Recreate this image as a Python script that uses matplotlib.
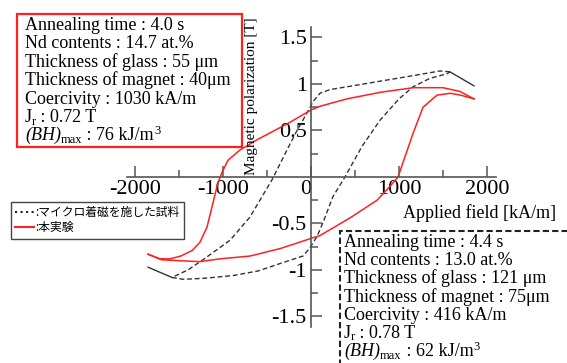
import matplotlib
matplotlib.use("Agg")
import matplotlib.pyplot as plt
from matplotlib.lines import Line2D
from matplotlib.patches import Rectangle

plt.rcParams['font.family'] = ['Liberation Serif', 'DejaVu Serif']
plt.rcParams['axes.unicode_minus'] = False

# micro-magnetized sample (black dashed), field [kA/m], polarization [T]
blk_down_x = [1580, 1466, 1160, 784, 409, 216, 102, 23, -45, -159, -273, -443, -693, -920, -1227, -1400, -1580]
blk_down_y = [1.13, 1.14, 1.09, 1.03, 0.97, 0.94, 0.90, 0.81, 0.69, 0.50, 0.29, -0.03, -0.43, -0.68, -0.89, -1.00, -1.08]
blk_up_x = [-1580, -1455, -1227, -886, -600, -318, -91, -11, 68, 136, 250, 386, 580, 784, 1000, 1160, 1350, 1545, 1580]
blk_up_y = [-1.08, -1.10, -1.09, -1.06, -1.01, -0.92, -0.85, -0.76, -0.64, -0.49, -0.21, 0.00, 0.33, 0.61, 0.84, 0.97, 1.06, 1.11, 1.13]
blk_tip_r_x = [1580, 1852]
blk_tip_r_y = [1.13, 0.98]
blk_tip_l_x = [-1580, -1852]
blk_tip_l_y = [-1.08, -0.97]

# this experiment (red)
red_down_x = [1852, 1693, 1500, 1160, 784, 409, 102, 0, -273, -614, -807, -943, -1011, -1057, -1114, -1182, -1261, -1350, -1480, -1602, -1716, -1852]
red_down_y = [0.84, 0.92, 0.96, 0.96, 0.91, 0.84, 0.76, 0.72, 0.57, 0.40, 0.29, 0.18, 0.05, -0.06, -0.28, -0.54, -0.70, -0.79, -0.85, -0.88, -0.88, -0.83]
red_up_x = [-1852, -1700, -1500, -1261, -1034, -693, -352, -125, 0, 102, 443, 750, 898, 989, 1160, 1273, 1432, 1580, 1700, 1852]
red_up_y = [-0.83, -0.89, -0.90, -0.91, -0.88, -0.85, -0.77, -0.70, -0.66, -0.63, -0.44, -0.25, -0.10, 0.00, 0.47, 0.75, 0.88, 0.90, 0.88, 0.84]

xticks = [-2000, -1000, 0, 1000, 2000]
xticklabels = ['-2000', '-1000', '0', '1000', '2000']
yticks = [-1.5, -1, -0.5, 0.5, 1, 1.5]
yticklabels = ['-1.5', '-1', '-0.5', '0.5', '1', '1.5']

# text lines: list of (text, style) pieces; style n=normal, i=italic, sub, sup
info_a = [[('Annealing time : 4.0 s', 'n')], [('Nd contents : 14.7 at.%', 'n')],
          [('Thickness of glass : 55 \u03bcm', 'n')], [('Thickness of magnet : 40\u03bcm', 'n')],
          [('Coercivity : 1030 kA/m', 'n')], [('J', 'n'), ('r', 'sub'), (' : 0.72 T', 'n')],
          [('(BH)', 'i'), ('max', 'sub'), (' : 76 kJ/m', 'n'), ('3', 'sup')]]
info_b = [[('Annealing time : 4.4 s', 'n')], [('Nd contents : 13.0 at.%', 'n')],
          [('Thickness of glass : 121 \u03bcm', 'n')], [('Thickness of magnet : 75\u03bcm', 'n')],
          [('Coercivity : 416 kA/m', 'n')], [('J', 'n'), ('r', 'sub'), (' : 0.78 T', 'n')],
          [('(BH)', 'i'), ('max', 'sub'), (' : 62 kJ/m', 'n'), ('3', 'sup')]]

W, H = 567, 363
fig = plt.figure(figsize=(W / 100, H / 100), dpi=100)
ax = fig.add_axes([0, 0, 1, 1])
ax.set_xlim(-3534, 2909)
ax.set_ylim(-2.0, 1.903)

def fx(px):
    return px / W

def fy(py):
    return 1 - py / H

ax.spines['left'].set_position(('data', 0))
ax.spines['bottom'].set_position(('data', 0))
ax.spines['top'].set_visible(False)
ax.spines['right'].set_visible(False)
ax.spines['left'].set_bounds(-1.61, 1.61)
ax.spines['bottom'].set_bounds(-2090, 2100)
for s in ['left', 'bottom']:
    ax.spines[s].set_color('#555555')
    ax.spines[s].set_linewidth(1.2)

ax.set_xticks(xticks)
ax.set_xticklabels(xticklabels)
ax.set_xticks([-1500, -500, 500, 1500], minor=True)
ax.set_yticks(yticks)
ax.set_yticklabels(yticklabels)
ax.set_yticks([-1.25, -0.75, -0.25, 0.25, 0.75, 1.25], minor=True)
ax.tick_params(which='both', direction='in', color='#555555', width=1.1, labelsize=16)
ax.tick_params(which='major', length=8)
ax.tick_params(which='minor', length=5)
ax.tick_params(axis='x', pad=2)
ax.tick_params(axis='y', pad=3)
for t in ax.get_xticklabels():
    if t.get_text() == '0':
        t.set_horizontalalignment('right')

dash = (0, (3.5, 2))
ax.plot(blk_down_x, blk_down_y, color='#333333', lw=1.0, ls=dash)
ax.plot(blk_up_x, blk_up_y, color='#333333', lw=1.0, ls=dash)
ax.plot(blk_tip_r_x, blk_tip_r_y, color='#333333', lw=1.0)
ax.plot(blk_tip_l_x, blk_tip_l_y, color='#333333', lw=1.0)
ax.plot(red_down_x, red_down_y, color='#ff2020', lw=1.1)
ax.plot(red_up_x, red_up_y, color='#ff2020', lw=1.1)

fig.text(fx(403), fy(213), 'Applied field [kA/m]', fontsize=13, ha='left', va='center')
fig.text(fx(251), fy(96), 'Magnetic polarization [T]', fontsize=11, rotation=90, ha='center', va='center')

fig.patches.append(Rectangle((fx(17), fy(147)), fx(242) - fx(17), fy(14) - fy(147), transform=fig.transFigure,
                             facecolor='white', edgecolor='#ff2020', lw=1.6, zorder=3))
fig.patches.append(Rectangle((fx(340), fy(370)), fx(600) - fx(340), fy(231) - fy(370), transform=fig.transFigure,
                             facecolor='white', edgecolor='#222222', lw=1.5, ls=(0, (3, 1.5)), zorder=3))

renderer = fig.canvas.get_renderer()

def put_line(x0, base, pieces):
    x = x0
    for s, style in pieces:
        size, dy, fst = 13, 0, 'normal'
        if style == 'i':
            fst = 'italic'
        elif style == 'sub':
            size, dy = 9, 2.5
        elif style == 'sup':
            size, dy = 9, -6
        t = fig.text(fx(x), fy(base + dy), s, fontsize=size, fontstyle=fst,
                     ha='left', va='baseline', zorder=4)
        bb = t.get_window_extent(renderer)
        x = bb.x1

for i, line in enumerate(info_a):
    put_line(25, 30 + i * 18.4, line)
for i, line in enumerate(info_b):
    put_line(344, 247 + i * 18.2, line)

handles = [Line2D([], [], color='#222222', lw=1.5, ls=':'),
           Line2D([], [], color='#ff2020', lw=1.5)]
leg = ax.legend(handles, [':マイクロ着磁を施した試料', ':本実験'], loc='upper left',
                bbox_to_anchor=(fx(11), fy(202)), bbox_transform=fig.transFigure,
                prop={'family': ['Noto Sans CJK JP', 'DejaVu Sans'], 'size': 8.5},
                fancybox=False, edgecolor='#444444', framealpha=1, borderpad=0.35,
                handlelength=1.6, handletextpad=0.1, labelspacing=0.2, borderaxespad=0)
leg.get_frame().set_linewidth(1.0)

fig.savefig('out.png', dpi=100)
